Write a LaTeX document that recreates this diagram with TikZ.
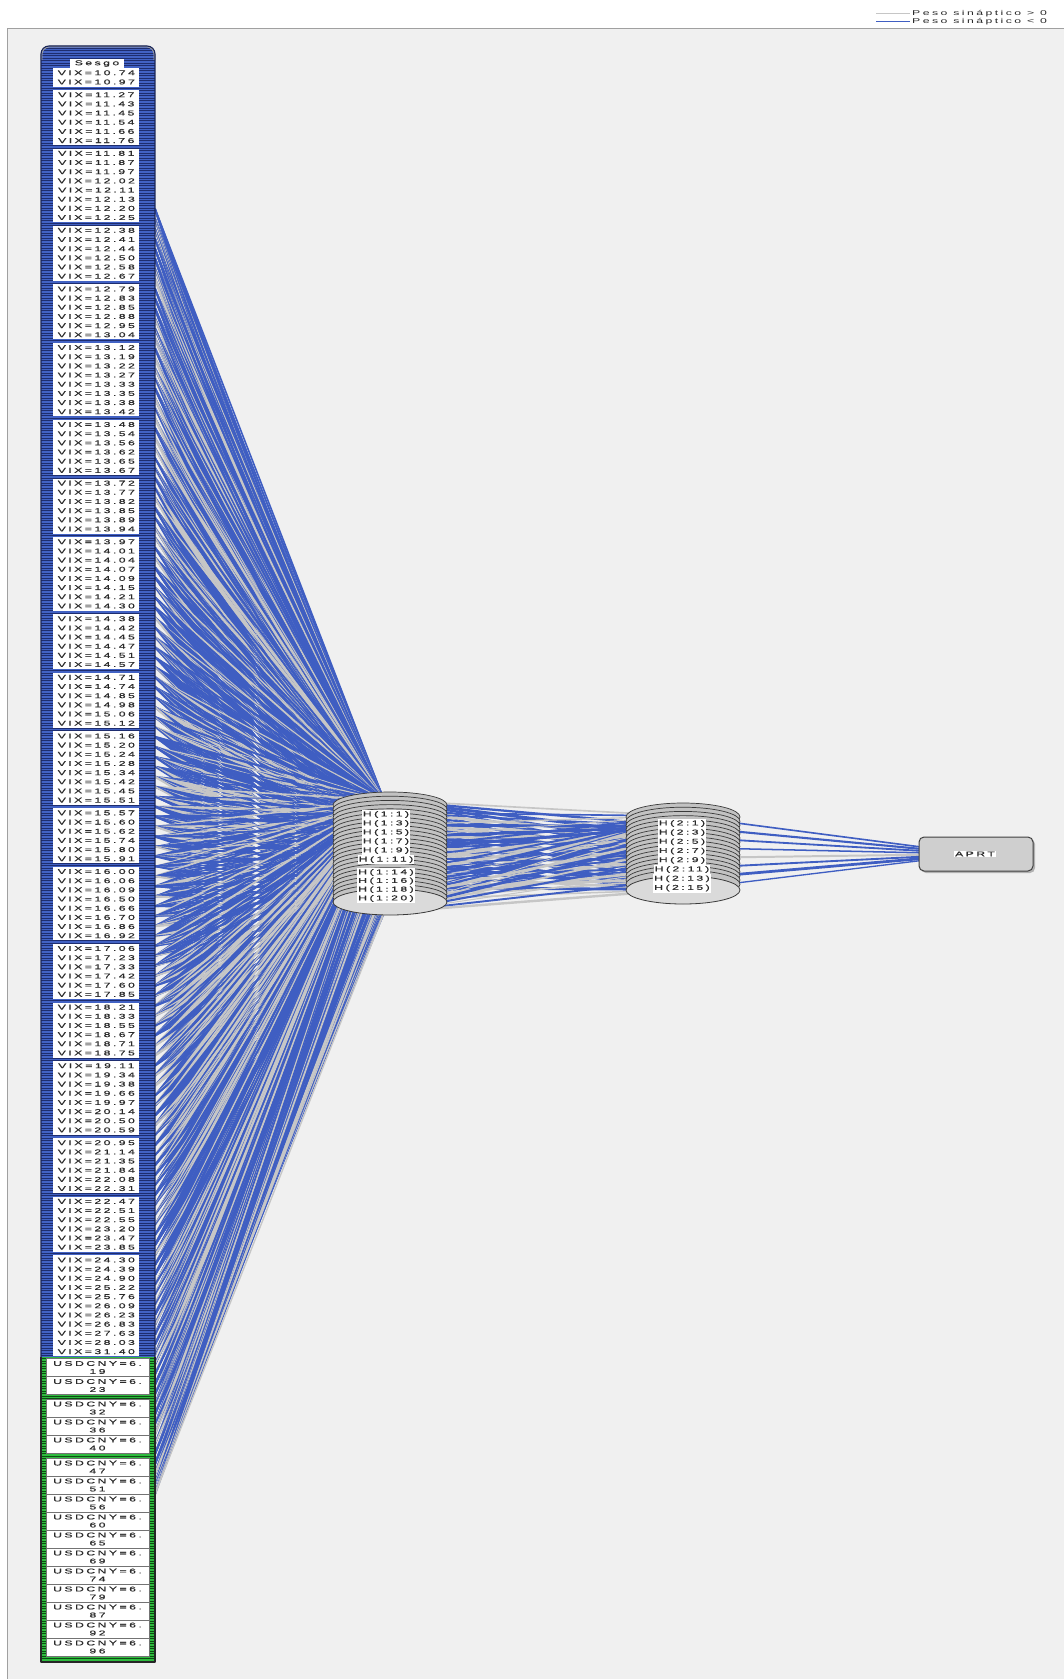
\documentclass[tikz,border=0pt]{standalone}
\usepackage{fontspec}
\usepackage{graphicx}
\newfontfamily\labfont[LetterSpace=20,FakeBold=0.35]{Liberation Sans}
\newfontfamily\legfont[LetterSpace=20]{Liberation Sans}
\definecolor{panelbg}{HTML}{F0F0F0}
\definecolor{panelrule}{HTML}{A0A0A0}
\definecolor{negblue}{HTML}{3F5EC2}
\definecolor{posgray}{HTML}{C6C6C6}
\definecolor{colblue}{HTML}{4262C4}
\definecolor{colstripe}{HTML}{1E2D6E}
\definecolor{colgreen}{HTML}{2EBB3E}
\definecolor{greenstripe}{HTML}{0C4E12}
\definecolor{labtext}{HTML}{2A2A2A}
\definecolor{cylfill}{HTML}{C2C2C2}
\definecolor{cylline}{HTML}{3A3A3A}
\definecolor{cylbottom}{HTML}{DADADA}
\definecolor{outfill}{HTML}{CFCFCF}
\newcommand\lbl[1]{{\labfont\fontsize{7}{7.5}\selectfont\scalebox{1.75}[1]{#1}}}
\newcommand\leglbl[1]{{\legfont\fontsize{7}{7.5}\selectfont\scalebox{1.75}[1]{#1}}}
\tikzset{
  wneg/.style={draw=negblue},
  wpos/.style={draw=posgray},
  vlab/.style={fill=white, inner sep=0pt, minimum width=86pt, minimum height=9.25pt, text=labtext},
  ulab/.style={fill=white, draw=black!55, line width=0.4pt, inner sep=0pt, minimum width=103pt, minimum height=18pt, text=labtext, align=center, font=\fontsize{7}{8}\selectfont},
  hlab/.style={fill=white, inner sep=1pt, minimum height=9.2pt, text=labtext},
  cylside/.style={fill=cylfill, draw=cylline, line width=0.7pt},
  cylbot/.style={fill=cylbottom, draw=cylline, line width=0.8pt},
}
\begin{document}
\begin{tikzpicture}[x=1pt, y=-1pt, line join=round]
\useasboundingbox (0,0) rectangle (1064,1679);
% panel
\fill[white] (0,0) rectangle (1064,1679);
\fill[panelbg] (7,28) rectangle (1070,1690);
\draw[panelrule, line width=0.8pt] (1070,28) -- (7,28) -- (7,1690);

% named coordinates
\foreach \i in {0,...,129} {\coordinate (in\i) at (155,209+\i*9.96);}
\foreach \j in {0,...,9} {\coordinate (hA\j) at (384,800+\j*12.5);}
\foreach \k in {0,...,7} {\coordinate (hB\k) at (683,816+\k*10.5);}
\coordinate (outc) at (975,854);

\pgfmathsetseed{4242}
% input -> hidden 1
\foreach \i in {0,...,129}{
  \foreach \j in {0,...,9}{
    \pgfmathsetmacro\r{rnd}
    \pgfmathsetmacro\w{0.6+1.8*rnd}
    \ifdim\r pt<0.66pt \def\cc{wneg}\else\def\cc{wpos}\fi
    \draw[\cc, line width=\w pt] (in\i) -- (hA\j);
  }
}
% hidden 1 -> hidden 2
\foreach \j in {0,...,9}{
  \foreach \k in {0,...,7}{
    \pgfmathsetmacro\r{rnd}
    \pgfmathsetmacro\w{0.8+2.2*rnd}
    \ifdim\r pt<0.64pt \def\cc{wneg}\else\def\cc{wpos}\fi
    \draw[\cc, line width=\w pt] (hA\j) -- (hB\k);
  }
}
% hidden 2 -> output
\foreach \k in {0,...,7}{
  \pgfmathsetmacro\r{rnd}
  \pgfmathsetmacro\w{1+1.8*rnd}
  \ifdim\r pt<0.75pt \def\cc{wneg}\else\def\cc{wpos}\fi
  \draw[\cc, line width=\w pt] (hB\k) -- (outc);
}

% input column (blue part)
\begin{scope}
  \clip[rounded corners=8pt] (41,46) rectangle (155,1380);
  \fill[colblue] (41,46) rectangle (155,1380);
  \foreach \yy in {48,50.5,...,1357} {\draw[colstripe, line width=0.55pt] (41,\yy) -- (155,\yy);}
\end{scope}
% green part
\fill[colgreen] (41,1357) rectangle (155,1662);
\foreach \yy in {1358.5,1361,...,1661} {\draw[greenstripe, line width=0.55pt] (41,\yy) -- (155,\yy);}
\draw[black!35, line width=1.6pt, rounded corners=8pt] (41.5,60) -- (41.5,46.5) -- (154.5,46.5) -- (154.5,60);
\draw[colstripe!80!black, line width=1.1pt, rounded corners=8pt] (41,1357) -- (41,46) -- (155,46) -- (155,1357);
\draw[black!85, line width=1.1pt] (41,1357) -- (41,1662) -- (155,1662) -- (155,1357);

% labels
\node[fill=white, inner sep=0pt, minimum width=54pt, minimum height=8.6pt, text=labtext] (sesgo) at (97,63.5) {\lbl{Sesgo}};
\foreach \g/\s/\vals in {
0/0/{10.74,10.97},
1/2/{11.27,11.43,11.45,11.54,11.66,11.76},
2/8/{11.81,11.87,11.97,12.02,12.11,12.13,12.20,12.25},
3/16/{12.38,12.41,12.44,12.50,12.58,12.67},
4/22/{12.79,12.83,12.85,12.88,12.95,13.04},
5/28/{13.12,13.19,13.22,13.27,13.33,13.35,13.38,13.42},
6/36/{13.48,13.54,13.56,13.62,13.65,13.67},
7/42/{13.72,13.77,13.82,13.85,13.89,13.94},
8/48/{13.97,14.01,14.04,14.07,14.09,14.15,14.21,14.30},
9/56/{14.38,14.42,14.45,14.47,14.51,14.57},
10/62/{14.71,14.74,14.85,14.98,15.06,15.12},
11/68/{15.16,15.20,15.24,15.28,15.34,15.42,15.45,15.51},
12/76/{15.57,15.60,15.62,15.74,15.80,15.91},
13/82/{16.00,16.06,16.09,16.50,16.66,16.70,16.86,16.92},
14/90/{17.06,17.23,17.33,17.42,17.60,17.85},
15/96/{18.21,18.33,18.55,18.67,18.71,18.75},
16/102/{19.11,19.34,19.38,19.66,19.97,20.14,20.50,20.59},
17/110/{20.95,21.14,21.35,21.84,22.08,22.31},
18/116/{22.47,22.51,22.55,23.20,23.47,23.85},
19/122/{24.30,24.39,24.90,25.22,25.76,26.09,26.23,26.83,27.63,28.03,31.40}}{
  \foreach \v [count=\k from 0] in \vals {
    \pgfmathsetmacro\yy{72.8+(\s+\k)*9.17+\g*3.6}
    \node[vlab] (vix-\g-\k) at (96.3,\yy) {\lbl{VIX=\v}};
  }
}
\foreach \v/\yy in {19/1363.5,23/1381.5,32/1404,36/1422,40/1440,47/1463,51/1481,56/1499,60/1517,65/1535,69/1553,74/1571,79/1589,87/1607,92/1625,96/1643}{
  \node[ulab] (usd-\v) at (97.5,\yy+4) {\lbl{USDCNY=6.}\\\lbl{\v}};
}

% hidden layer 1 cylinder
\foreach \yy in {805,809.2,...,898} {\filldraw[cylside] (390,\yy) ellipse [x radius=57, y radius=13];}
\filldraw[cylbot] (390,902) ellipse [x radius=57, y radius=13];
\foreach \t/\yy in {1/814.5,3/823.5,5/832.5,7/841.5,9/850.5,11/859.7,14/872.5,16/881,18/889.7,20/898.5}{
  \node[hlab] (h1-\t) at (386,\yy) {\lbl{H(1:\t)}};
}
% hidden layer 2 cylinder
\foreach \yy in {817,821.2,...,886} {\filldraw[cylside] (683,\yy) ellipse [x radius=57, y radius=14];}
\filldraw[cylbot] (683,890) ellipse [x radius=57, y radius=14];
\foreach \t/\yy in {1/823.5,3/832.7,5/841.9,7/851.1,9/860.3,11/869.5,13/878.8,15/888}{
  \node[hlab] (h2-\t) at (682,\yy) {\lbl{H(2:\t)}};
}
% output
\fill[black!30, rounded corners=5pt] (921,839) rectangle (1035,873);
\filldraw[fill=outfill, draw=black!75, line width=1pt, rounded corners=5pt] (919,837) rectangle (1033,871);
\node[fill=white, inner sep=1pt, text=labtext] (aprt) at (975,854) {\lbl{APRT}};

% legend
\coordinate (lg1a) at (876,13);
\coordinate (lg1b) at (910,13);
\coordinate (lg2a) at (876,21.2);
\coordinate (lg2b) at (910,21.2);
\draw[posgray, line width=0.9pt] (lg1a) -- (lg1b);
\draw[negblue, line width=0.9pt] (lg2a) -- (lg2b);
\node[anchor=west, inner sep=0pt, text=labtext] (leg1) at (912,13.3) {\leglbl{Peso sináptico > 0}};
\node[anchor=west, inner sep=0pt, text=labtext] (leg2) at (912,21.5) {\leglbl{Peso sináptico < 0}};
\end{tikzpicture}
\end{document}
